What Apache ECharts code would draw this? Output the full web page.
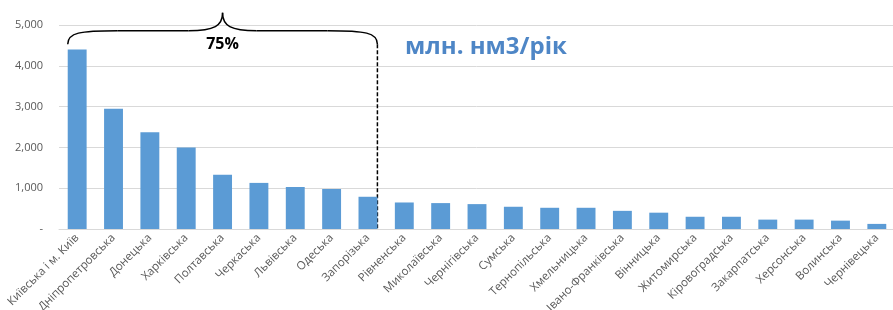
<!DOCTYPE html>
<html>
<head>
<meta charset="utf-8">
<script src="https://cdn.jsdelivr.net/npm/echarts@6/dist/echarts.min.js"></script>
<style>
  html, body { margin: 0; padding: 0; background: #fff; }
  #main { width: 893px; height: 310px; }
</style>
</head>
<body>
<div id="main"></div>
<script>
// regions (oblasts) and gas consumption, mln nm3 per year
const regions = [
  'Київська і м. Київ', 'Дніпропетровська', 'Донецька', 'Харківська', 'Полтавська',
  'Черкаська', 'Львівська', 'Одеська', 'Запорізька', 'Рівненська', 'Миколаївська',
  'Чернігівська', 'Сумська', 'Тернопільська', 'Хмельницька', 'Івано-Франківська',
  'Вінницька', 'Житомирська', 'Кіровоградська', 'Закарпатська', 'Херсонська',
  'Волинська', 'Чернівецька'
];
const volumes = [
  4400, 2950, 2370, 2000, 1330, 1130, 1030, 980, 790, 650, 635,
  610, 545, 520, 520, 445, 400, 300, 300, 230, 230, 205, 125
];
const yTicks = [0, 1000, 2000, 3000, 4000, 5000];

// annotation: first 9 regions make up 75%
const shareLabel = '75%';
const shareLastIndex = 8;
const unitLabel = 'млн. нм3/рік';

var myChart = echarts.init(document.getElementById('main'));

var option = {
  animation: false,
  grid: { left: 59, top: 25, width: 836, height: 204, outerBoundsMode: 'none', containLabel: false },
  xAxis: {
    type: 'category',
    data: regions,
    axisLine: { lineStyle: { color: '#d9d9d9', width: 1 } },
    axisTick: { show: false },
    axisLabel: {
      rotate: 45,
      interval: 0,
      margin: 7,
      color: '#595959',
      fontSize: 11.5,
      fontFamily: 'Open Sans'
    }
  },
  yAxis: {
    type: 'value',
    min: yTicks[0],
    max: yTicks[yTicks.length - 1],
    interval: 1000,
    axisLine: { show: false },
    axisTick: { show: false },
    splitLine: { lineStyle: { color: '#d9d9d9', width: 1 } },
    axisLabel: {
      margin: 16,
      color: '#595959',
      fontSize: 11,
      fontFamily: 'Open Sans',
      formatter: v => v === 0 ? '-' : v.toLocaleString('en-US')
    }
  },
  series: [{
    type: 'bar',
    data: volumes,
    barWidth: '52%',
    itemStyle: { color: '#5b9bd5' }
  }]
};

myChart.setOption(option);

// brace + dashed divider, placed with the chart's own scales
const c0 = myChart.convertToPixel({ gridIndex: 0 }, [0, 0]);
const c1 = myChart.convertToPixel({ gridIndex: 0 }, [1, 0]);
const cl = myChart.convertToPixel({ gridIndex: 0 }, [shareLastIndex, 0]);
const band = c1[0] - c0[0];
const xl = c0[0] - band * 0.26;
const xr = cl[0] + band * 0.26;
const xm = (xl + xr) / 2;
const y0 = c0[1];
const ye = myChart.convertToPixel({ yAxisIndex: 0 }, 4530);
const yh = myChart.convertToPixel({ yAxisIndex: 0 }, 4860);
const yp = myChart.convertToPixel({ yAxisIndex: 0 }, 5300);

const stroke = { stroke: '#000', lineWidth: 1.5, fill: null };
function curve(x1, y1, cx1, cy1, cx2, cy2, x2, y2) {
  return {
    type: 'bezierCurve',
    shape: { x1, y1, cpx1: cx1, cpy1: cy1, cpx2: cx2, cpy2: cy2, x2, y2 },
    style: stroke
  };
}
function seg(x1, y1, x2, y2, dash) {
  return {
    type: 'line',
    shape: { x1, y1, x2, y2 },
    style: Object.assign({}, stroke, dash ? { lineDash: dash } : {})
  };
}

myChart.setOption({
  graphic: [
    curve(xl, ye, xl, yh + 2, xl + 12, yh, xl + 50, yh),
    seg(xl + 50, yh, xm - 34, yh),
    curve(xm - 34, yh, xm - 8, yh, xm, yh - 5, xm, yp),
    curve(xm, yp, xm, yh - 5, xm + 8, yh, xm + 34, yh),
    seg(xm + 34, yh, xr - 50, yh),
    curve(xr - 50, yh, xr - 12, yh, xr, yh + 2, xr, ye),
    seg(xr, ye, xr, y0, [4, 2]),
    {
      type: 'text',
      style: {
        x: xm, y: ye, text: shareLabel,
        font: 'bold 16px "Open Sans"', fill: '#000',
        align: 'center', verticalAlign: 'middle'
      }
    },
    {
      type: 'text',
      style: {
        x: 405, y: 47, text: unitLabel,
        font: 'bold 24px "Open Sans"', fill: '#4e86c6',
        align: 'left', verticalAlign: 'middle'
      }
    }
  ]
});
</script>
</body>
</html>
